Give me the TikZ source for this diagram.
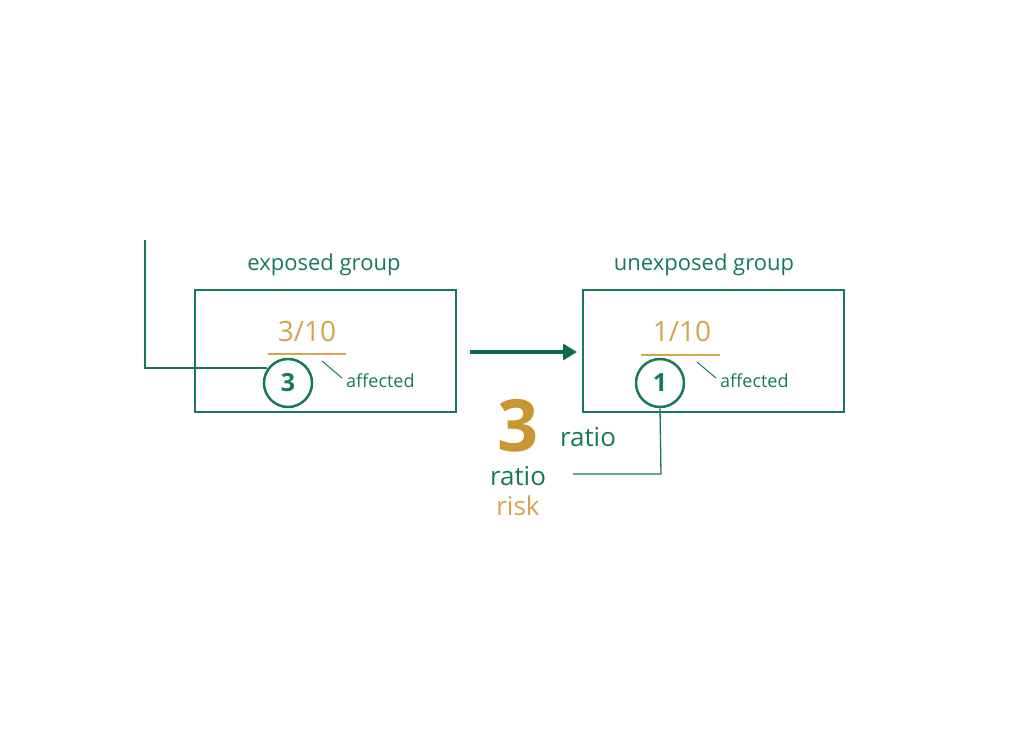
\documentclass[tikz,border=0pt]{standalone}
\usepackage{fontspec}
\setmainfont{Open Sans}
\usetikzlibrary{arrows.meta}
\definecolor{grn}{RGB}{22,122,84}
\definecolor{dgrn}{RGB}{12,108,74}
\definecolor{gld}{RGB}{212,164,80}
\definecolor{bgld}{RGB}{200,150,50}
\tikzset{
  grp/.style={draw=grn, line width=2pt, minimum width=261pt, minimum height=122pt, inner sep=0pt},
  lbl/.style={text=grn, font=\fontsize{22}{24}\selectfont, inner sep=0pt},
  frac/.style={text=gld, font=\fontsize{28}{30}\selectfont, inner sep=0pt},
  circ/.style={circle, draw=grn, line width=2.5pt, minimum size=48pt, inner sep=0pt, text=grn, font=\fontsize{25}{27}\selectfont\bfseries},
  aff/.style={text=grn, font=\fontsize{18}{20}\selectfont, inner sep=0pt, anchor=west},
  conn/.style={draw=grn, line width=1.3pt},
  bar/.style={draw=gld, line width=2.5pt},
  word/.style={text=grn, font=\fontsize{26}{28}\selectfont, inner sep=0pt},
}
\begin{document}
\begin{tikzpicture}[x=1pt,y=-1pt]
\useasboundingbox (0,0) rectangle (1024,747);
% boxes
\node[grp] (box1) at (325.5,351) {};
\node[grp] (box2) at (713.5,351) {};
\node[lbl] (t1) at (324,265) {exposed group};
\node[lbl] (t2) at (704,265) {unexposed group};
% fractions
\node[frac] (f1) at (307,331) {3/10};
\node[frac] (f2) at (682,331) {1/10};
\coordinate (b1l) at (268,354); \coordinate (b1r) at (346,354);
\coordinate (b2l) at (641,355); \coordinate (b2r) at (720,355);
\draw[bar] (b1l) -- (b1r);
\draw[bar] (b2l) -- (b2r);
% circles
\node[circ] (c1) at (288,383) {3};
\node[circ] (c2) at (660,383) {1};
% affected
\node[aff] (a1) at (346,381) {affected};
\node[aff] (a2) at (720,381) {affected};
\coordinate (l1s) at (322,361); \coordinate (l1e) at (342,378);
\coordinate (l2s) at (697,362); \coordinate (l2e) at (716,378);
\draw[grn, line width=1pt] (l1s) -- (l1e);
\draw[grn, line width=1pt] (l2s) -- (l2e);
% left connector
\coordinate (top) at (145,240);
\coordinate (cornerL) at (145,368);
\draw[conn] (top) -- (cornerL) -- ([xshift=4pt]c1.west |- cornerL);
% arrow
\coordinate (arS) at (470,352);
\coordinate (arE) at (577,352);
\draw[dgrn, line width=3.2pt, -{Triangle[length=14pt,width=16pt]}] (arS) -- (arE);
% big 3 and labels
\node[text=bgld, font=\fontsize{72}{74}\selectfont\bfseries, inner sep=0pt, anchor=base] (big) at (518,451) {3};
\node[word] (r1) at (588,437) {ratio};
\node[word, anchor=base] (r2) at (518,485) {ratio};
\node[word, text=gld, anchor=base] (risk) at (518,515) {risk};
\coordinate (cornerR) at (661,474);
\coordinate (endR) at (573,474);
\draw[conn] (c2.south) -- (cornerR) -- (endR);
\end{tikzpicture}
\end{document}
